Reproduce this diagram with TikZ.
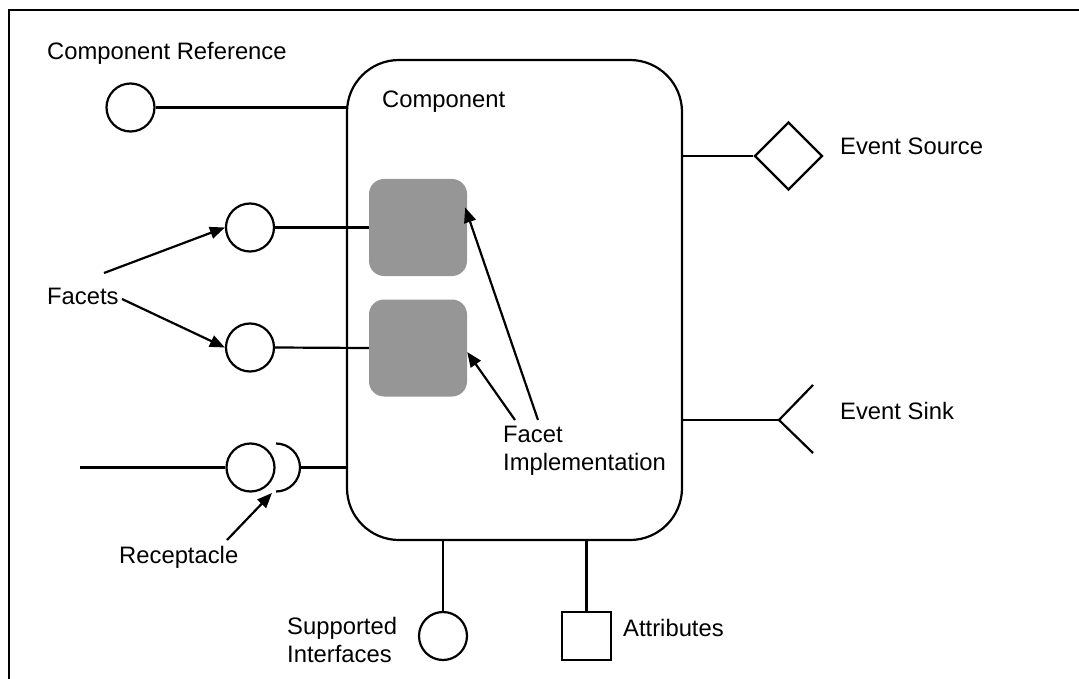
\documentclass[tikz,border=0pt]{standalone}
\usepackage{fontspec}
\setmainfont{Liberation Sans}
\usetikzlibrary{arrows.meta,shapes.geometric}
\begin{document}
\begin{tikzpicture}[x=1pt,y=-1pt,
  every node/.style={font=\fontsize{23.8}{28}\selectfont},
  wire/.style={line width=2.2pt},
  label/.style={inner sep=0pt,anchor=base west},
  port/.style={draw,line width=2.2pt,circle,inner sep=0pt,minimum size=48pt},
  impl/.style={fill=black!41,draw=none,rounded corners=15pt,minimum width=98pt,minimum height=97pt,inner sep=0pt},
  pointer/.style={line width=2.2pt,-{Triangle[length=15pt,width=12pt]}}]
\useasboundingbox (0,0) rectangle (1079,679);
% open frame (top and left edges)
\draw[line width=2.8pt] (1079,10) -- (9,10) -- (9,679);

% component body
\node[draw,line width=2.2pt,rounded corners=52pt,minimum width=335pt,minimum height=480pt,inner sep=0pt] (comp) at (514.5,300) {};
\node[label] (compname) at (382,108) {Component};

% component reference
\node[label] (crtext) at (47,60) {Component Reference};
\node[port] (cr) at (130.5,107.5) {};
\draw[wire] (cr.east) -- (comp.west |- cr);

% facets with their implementations
\node[port] (f1) at (250,227.5) {};
\node[port] (f2) at (250,347.5) {};
\node[impl] (b1) at (418,227.5) {};
\node[impl] (b2) at (418,348) {};
\draw[wire] (f1.east) -- (b1.west);
\draw[wire] (f2.east) -- (b2.west);
\node[label] (facets) at (47,304) {Facets};
\coordinate (fa1) at (104,273);
\coordinate (fa2) at (122,299);
\draw[pointer] (fa1) -- (f1.west);
\draw[pointer] (fa2) -- (f2.west);

\node[inner sep=0pt,anchor=north west,align=left] (impltext) at (503,426) {Facet\\Implementation};
\coordinate (ia1) at (538,420);
\coordinate (ia2) at (515,420);
\draw[pointer] (ia1) -- ([yshift=20pt,xshift=-2pt]b1.east);
\draw[pointer] (ia2) -- ([yshift=-4pt]b2.east);

% event source
\node[draw,line width=2.2pt,diamond,aspect=1,minimum width=68pt,minimum height=68pt,inner sep=0pt] (src) at (788.5,156) {};
\draw[wire] (comp.east |- src) -- (src.west);
\node[label] (srctext) at (840,155) {Event Source};

% event sink
\coordinate (sink) at (779,420);
\coordinate (sinkup) at (813,385);
\coordinate (sinkdown) at (813,453);
\draw[wire] (comp.east |- sink) -- (sink);
\draw[wire] (sinkup) -- (sink) -- (sinkdown);
\node[label] (sinktext) at (840,419) {Event Sink};

% receptacle
\node[port] (rec) at (250.5,467.5) {};
\coordinate (recin) at (80,467.5);
\coordinate (arctop) at (276,443.5);
\coordinate (recarc) at (300,467.5);
\draw[wire] (recin) -- (rec.west);
\draw[wire] (arctop) arc[start angle=-90,end angle=90,radius=24];
\draw[wire] (recarc) -- (comp.west |- recarc);
\node[label] (rectext) at (119,563) {Receptacle};
\coordinate (ra) at (227,540);
\coordinate (raend) at (272,493);
\draw[pointer] (ra) -- (raend);

% supported interfaces
\node[port] (si) at (443,636) {};
\draw[wire] (si.north) -- (comp.south -| si);
\node[inner sep=0pt,anchor=north west,align=left] (sitext) at (287,617.5) {Supported\\Interfaces};

% attributes
\node[draw,line width=2.2pt,minimum width=49pt,minimum height=48pt,inner sep=0pt] (attr) at (586.5,636) {};
\draw[wire] (attr.north) -- (comp.south -| attr);
\node[label] (attrtext) at (623,636) {Attributes};
\end{tikzpicture}
\end{document}
